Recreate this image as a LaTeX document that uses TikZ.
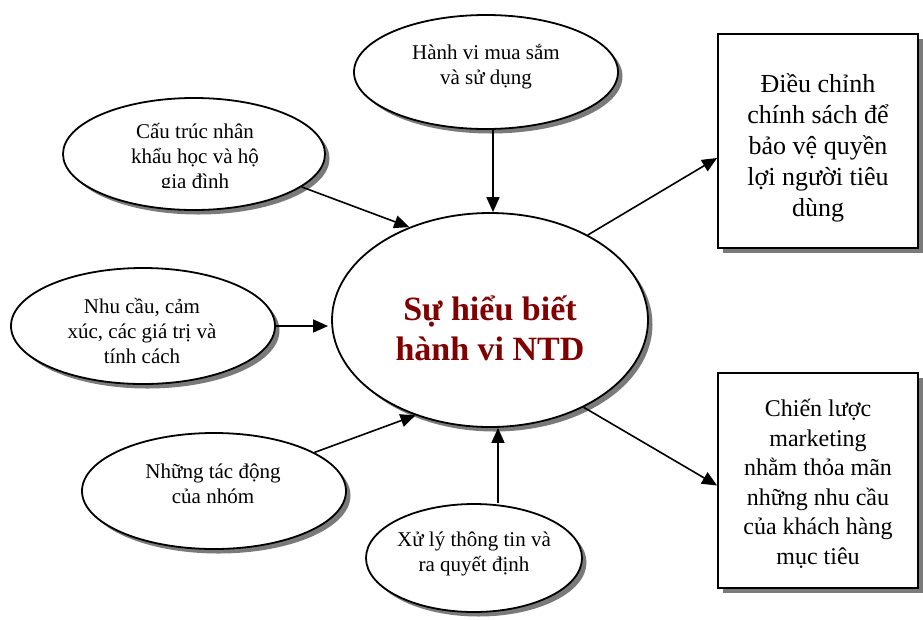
\documentclass[tikz,border=0pt]{standalone}
\usepackage{fontspec}
\setmainfont{Liberation Serif}
\usetikzlibrary{shapes.geometric,shadows,arrows.meta}
\definecolor{ntdred}{HTML}{800000}
\definecolor{shadowgray}{HTML}{7A7A7A}
\tikzset{
  shad/.style={drop shadow={shadow xshift=4.5pt,shadow yshift=-4.5pt,fill=shadowgray,opacity=1}},
  ell/.style={ellipse, draw, line width=1.8pt, fill=white, inner sep=0pt, shad},
  boxnode/.style={rectangle, draw, line width=1.8pt, fill=white, inner sep=0pt, shad, minimum width=200pt},
  arr/.style={line width=1.6pt, -{Triangle[length=15pt,width=13pt]}},
  smalltext/.style={align=center, inner sep=0pt, font=\fontsize{21pt}{25pt}\selectfont},
  boxtext/.style={align=center, inner sep=0pt},
  bigtext/.style={align=center, inner sep=0pt, text=ntdred, font=\fontsize{34pt}{40pt}\selectfont\bfseries},
}
\begin{document}
\begin{tikzpicture}[x=1pt,y=-1pt]
\useasboundingbox (0,0) rectangle (923,619);

% ellipses
\node[ell, minimum width=262pt, minimum height=112pt] (n1) at (194,154) {};
\node[ell, minimum width=264pt, minimum height=114pt] (n2) at (486,72) {};
\node[ell, minimum width=264pt, minimum height=116pt] (n3) at (143,326) {};
\node[ell, minimum width=264pt, minimum height=116pt] (n4) at (214,491) {};
\node[ell, minimum width=216pt, minimum height=108pt] (n5) at (474,558) {};
\node[ell, minimum width=316pt, minimum height=214pt] (c) at (490,320) {};

% boxes
\node[boxnode, minimum height=214pt] (b1) at (818,141) {};
\node[boxnode, minimum height=215pt] (b2) at (818,480.5) {};

% texts
\begin{scope}
\clip (60,95) rectangle (330,187);
\node[smalltext] (t1) at (195,158) {Cấu trúc nhân\\khẩu học và hộ\\gia đình};
\end{scope}
\node[smalltext] (t2) at (486,67) {Hành vi mua sắm\\và sử dụng};
\node[smalltext] (t3) at (142,331) {Nhu cầu, cảm\\xúc, các giá trị và\\tính cách};
\node[smalltext] (t4) at (213,484) {Những tác động\\của nhóm};
\node[smalltext] (t5) at (474,554) {Xử lý thông tin và\\ra quyết định};
\node[bigtext] (tc) at (490,328) {Sự hiểu biết\\hành vi NTD};
\node[boxtext, font=\fontsize{26pt}{31pt}\selectfont] (tb1) at (818,148) {Điều chỉnh\\chính sách để\\bảo vệ quyền\\lợi người tiêu\\dùng};
\node[boxtext, font=\fontsize{24pt}{29.5pt}\selectfont] (tb2) at (818,484) {Chiến lược\\marketing\\nhằm thỏa mãn\\những nhu cầu\\của khách hàng\\mục tiêu};

% connectors
\draw[arr] (n1.-17) -- (c.131);
\draw[arr] ([xshift=3pt]c.north |- n2.south) -- ([xshift=3pt]c.north);
\draw[arr, shorten >=3pt] (n3.east) -- (n3.east -| c.west);
\draw[arr] (n4.21) -- (c.-128);
\draw[arr] ([xshift=8pt]c.south |- n5.north) -- ([xshift=8pt]c.south);
\draw[arr] (c.41) -- ([yshift=-17pt]b1.west);
\draw[arr] (c.-43) -- ([yshift=-5pt]b2.west);
\end{tikzpicture}
\end{document}
